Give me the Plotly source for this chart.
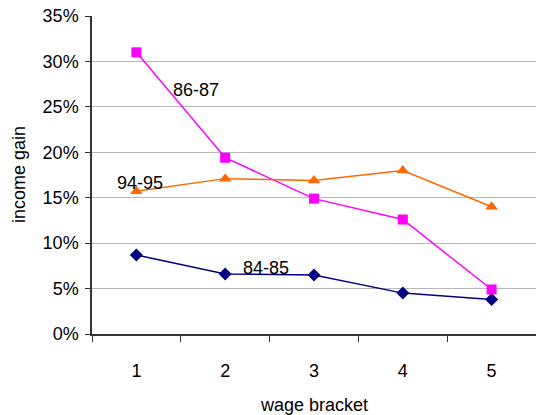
import plotly.graph_objects as go

brackets = ["1", "2", "3", "4", "5"]
gain_84_85 = [0.087, 0.066, 0.065, 0.045, 0.038]
gain_86_87 = [0.310, 0.194, 0.149, 0.126, 0.049]
gain_94_95 = [0.157, 0.171, 0.169, 0.180, 0.140]
y_ticks = [0, 0.05, 0.10, 0.15, 0.20, 0.25, 0.30, 0.35]

FONT = "Liberation Sans, Arial, sans-serif"
FS = 18

fig = go.Figure()
fig.add_trace(go.Scatter(
    x=brackets, y=gain_84_85, mode="lines+markers", name="84-85",
    line=dict(color="#000080", width=1.5),
    marker=dict(symbol="diamond", size=10, color="#000080"),
))
fig.add_trace(go.Scatter(
    x=brackets, y=gain_86_87, mode="lines+markers", name="86-87",
    line=dict(color="#FF00FF", width=1.5),
    marker=dict(symbol="square", size=10, color="#FF00FF"),
))
fig.add_trace(go.Scatter(
    x=brackets, y=gain_94_95, mode="lines+markers", name="94-95",
    line=dict(color="#FF6600", width=1.5),
    marker=dict(symbol="triangle-up", size=11, color="#FF6600"),
))

# series labels beside their lines (x given as category index)
series_labels = [
    ("86-87", 0, 0.269, 60),
    ("94-95", 0, 0.166, 4),
    ("84-85", 1, 0.073, 41),
]
annotations = [
    dict(x=x, y=y, xref="x", yref="y", text=t, showarrow=False,
         xanchor="center", yanchor="middle", xshift=dx,
         font=dict(size=FS, color="#000000", family=FONT))
    for t, x, y, dx in series_labels
]
annotations += [
    dict(x=0, y=0.5, xref="paper", yref="paper", text="income gain",
         textangle=-90, showarrow=False, xanchor="center", yanchor="middle",
         xshift=-73, font=dict(size=FS, color="#000000", family=FONT)),
    dict(x=0.5, y=0, xref="paper", yref="paper", text="wage bracket",
         showarrow=False, xanchor="center", yanchor="middle", yshift=-71,
         font=dict(size=FS, color="#000000", family=FONT)),
]

fig.update_layout(
    width=536, height=415,
    margin=dict(l=92, r=0, t=16, b=81),
    paper_bgcolor="white", plot_bgcolor="white",
    showlegend=False,
    font=dict(family=FONT, size=FS, color="#000000"),
    annotations=annotations,
)
fig.update_xaxes(
    type="category", categoryorder="array", categoryarray=brackets,
    range=[-0.5, 4.5], tickson="boundaries",
    ticks="outside", ticklen=6, tickcolor="#333333",
    showline=True, linecolor="#333333", linewidth=1.5,
    showgrid=False, zeroline=False, ticklabelstandoff=20,
)
fig.update_yaxes(
    range=[0, 0.35], tickvals=y_ticks, tickformat=".0%",
    ticks="outside", ticklen=5, tickcolor="#333333",
    showline=True, linecolor="#333333", linewidth=1.5,
    showgrid=True, gridcolor="#b8b8b8", gridwidth=1,
    zeroline=False, ticklabelstandoff=3,
)

fig.write_html("out.html")
